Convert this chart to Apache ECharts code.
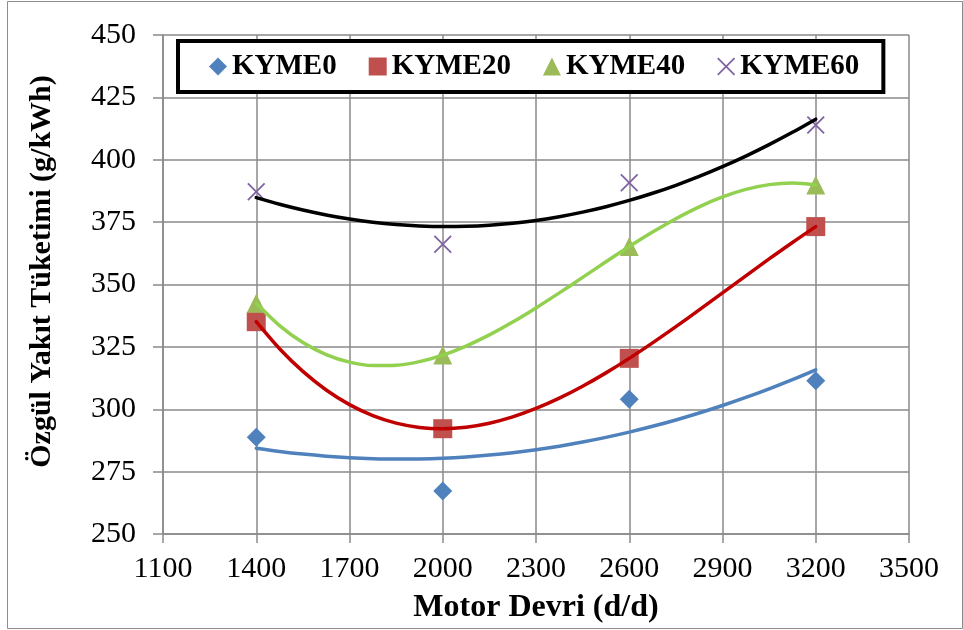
<!DOCTYPE html>
<html>
<head>
<meta charset="utf-8">
<script src="https://cdn.jsdelivr.net/npm/echarts@6/dist/echarts.min.js"></script>
<style>
  html, body { margin: 0; padding: 0; background: #fff; }
  #chart { width: 963px; height: 630px; }
</style>
</head>
<body>
<div id="chart"></div>
<script>
// Engine speed (d/d) at which each fuel blend was measured
const rpm = [1400, 2000, 2600, 3200];

// Brake specific fuel consumption (g/kWh) per blend
const kyme0  = [288.8, 267.2, 304.0, 311.4];
const kyme20 = [335.1, 292.2, 320.4, 373.2];
const kyme40 = [342.5, 321.7, 365.2, 389.9];
const kyme60 = [387.2, 366.1, 390.8, 413.9];

// Trend curves, sampled every 75 d/d along the speed range
const trendRpm = [1400, 1475, 1550, 1625, 1700, 1775, 1850, 1925, 2000, 2075, 2150, 2225, 2300,
                  2375, 2450, 2525, 2600, 2675, 2750, 2825, 2900, 2975, 3050, 3125, 3200];
const trend0  = [284.41, 283.11, 282.04, 281.20, 280.58, 280.19, 280.02, 280.08, 280.37, 280.89, 281.63, 282.60, 283.79,
                 285.21, 286.86, 288.73, 290.83, 293.16, 295.71, 298.49, 301.50, 304.73, 308.19, 311.88, 315.81];
const trend20 = [335.10, 324.26, 315.17, 307.73, 301.86, 297.46, 294.44, 292.72, 292.20, 292.79, 294.40, 296.94, 300.32,
                 304.45, 309.23, 314.58, 320.40, 326.61, 333.11, 339.81, 346.63, 353.47, 360.24, 366.84, 373.20];
const trend40 = [342.50, 333.55, 326.73, 321.89, 318.87, 317.50, 317.63, 319.08, 321.70, 325.33, 329.79, 334.94, 340.61,
                 346.63, 352.84, 359.09, 365.20, 371.02, 376.38, 381.13, 385.09, 388.12, 390.03, 390.68, 389.90];
const trend60 = [384.83, 382.17, 379.86, 377.89, 376.26, 374.98, 374.05, 373.46, 373.21, 373.31, 373.76, 374.55, 375.69,
                 377.17, 379.00, 381.17, 383.69, 386.56, 389.77, 393.32, 397.22, 401.47, 406.06, 410.99, 416.27];

// Tick labels
const xTicks = [1100, 1400, 1700, 2000, 2300, 2600, 2900, 3200, 3500];
const yTicks = [250, 275, 300, 325, 350, 375, 400, 425, 450];

const seriesNames = ['KYME0', 'KYME20', 'KYME40', 'KYME60'];

const serif = 'Liberation Serif, Times New Roman, serif';
const gridGray = '#8a8a8a';
const crossPath = 'path://M0,7L7,0L50,43L93,0L100,7L57,50L100,93L93,100L50,57L7,100L0,93L43,50Z';

const pairs = (xs, ys) => xs.map((x, i) => [x, ys[i]]);

const pointStyles = [
  { values: kyme0,  symbol: 'diamond',  size: 19, color: '#4F81BD' },
  { values: kyme20, symbol: 'rect',     size: 19, color: '#C0504D' },
  { values: kyme40, symbol: 'triangle', size: 19, color: '#9BBB59' },
  { values: kyme60, symbol: crossPath,  size: 18, color: '#8064A2' }
];
const trendStyles = [
  { values: trend0,  color: '#4F81BD' },
  { values: trend20, color: '#C00000' },
  { values: trend40, color: '#92D050' },
  { values: trend60, color: '#000000' }
];

const series = [];
pointStyles.forEach((p, i) => {
  series.push({
    name: seriesNames[i],
    type: 'scatter',
    symbol: p.symbol,
    symbolSize: p.size,
    itemStyle: { color: p.color, opacity: 1 },
    z: 2,
    data: pairs(rpm, p.values)
  });
});
trendStyles.forEach((t, i) => {
  series.push({
    name: seriesNames[i] + ' trend',
    type: 'line',
    smooth: 0.3,
    showSymbol: false,
    symbol: 'none',
    lineStyle: { color: t.color, width: 3.5, cap: 'round' },
    z: 3,
    data: pairs(trendRpm, t.values)
  });
});

const chart = echarts.init(document.getElementById('chart'), null, { renderer: 'canvas' });
chart.setOption({
  animation: false,
  backgroundColor: '#ffffff',
  grid: { left: 163, right: 54, top: 35, bottom: 96, containLabel: false },
  legend: {
    data: seriesNames.map((n, i) => ({ name: n, icon: pointStyles[i].symbol })),
    left: 178,
    top: 41,
    orient: 'horizontal',
    itemWidth: 18,
    itemHeight: 18,
    itemGap: 32,
    padding: [11, 24, 11, 31],
    borderColor: '#000000',
    borderWidth: 4,
    backgroundColor: '#ffffff',
    textStyle: { fontFamily: serif, fontWeight: 'bold', fontSize: 29, color: '#000' }
  },
  xAxis: {
    type: 'value',
    min: xTicks[0],
    max: xTicks[xTicks.length - 1],
    interval: 300,
    name: 'Motor Devri (d/d)',
    nameLocation: 'middle',
    nameGap: 58,
    nameTextStyle: { fontFamily: serif, fontWeight: 'bold', fontSize: 32, color: '#000' },
    axisLine: { show: true, lineStyle: { color: gridGray, width: 1.5 } },
    axisTick: { show: true, inside: false, length: 9, lineStyle: { color: gridGray, width: 1.5 } },
    axisLabel: { margin: 20, fontFamily: serif, fontSize: 30, color: '#000', formatter: v => String(v) },
    splitLine: { show: true, lineStyle: { color: gridGray, width: 1.5 } }
  },
  yAxis: {
    type: 'value',
    min: yTicks[0],
    max: yTicks[yTicks.length - 1],
    interval: 25,
    name: 'Özgül Yakıt Tüketimi (g/kWh)',
    nameLocation: 'middle',
    nameGap: 106,
    nameRotate: 90,
    nameTextStyle: { fontFamily: serif, fontWeight: 'bold', fontSize: 30, color: '#000', padding: [0, 0, 0, 26] },
    axisLine: { show: true, lineStyle: { color: gridGray, width: 1.5 } },
    axisTick: { show: true, inside: false, length: 10, lineStyle: { color: gridGray, width: 1.5 } },
    axisLabel: { margin: 27, fontFamily: serif, fontSize: 30, color: '#000', formatter: v => String(v) },
    splitLine: { show: true, lineStyle: { color: gridGray, width: 1.5 } }
  },
  graphic: [{
    type: 'rect',
    silent: true,
    z: -1,
    shape: { x: 7.5, y: 1.5, width: 955, height: 627 },
    style: { fill: 'none', stroke: '#8c8c8c', lineWidth: 1 }
  }],
  series: series
});
</script>
</body>
</html>
